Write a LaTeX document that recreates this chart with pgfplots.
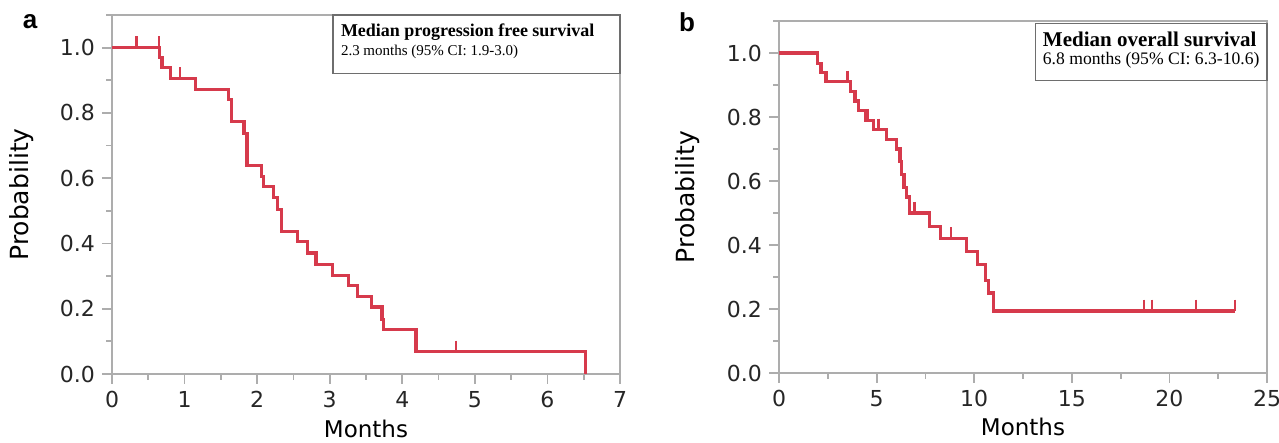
\documentclass[border=0pt]{standalone}
\usepackage{fontspec}
\setmainfont{DejaVu Sans}
\newfontfamily\tnr{Liberation Serif}
\newfontfamily\arl{Liberation Sans}
\usepackage{pgfplots}
\pgfplotsset{compat=1.18}
\definecolor{kmred}{HTML}{D63A4C}
\definecolor{framegray}{HTML}{ADADAD}
\definecolor{boxgray}{HTML}{6E6E6E}

\pgfplotsset{km/.style={
    scale only axis, clip=false,
    axis line style={framegray, line width=0.9pt},
    tick style={framegray, line width=0.9pt},
    tick align=outside, xtick pos=bottom, ytick pos=left,
    major tick length=5pt, minor tick length=3pt,
    ymin=0, ymax=1.1,
    ytick={0,0.2,0.4,0.6,0.8,1.0},
    minor ytick={0.1,0.3,0.5,0.7,0.9,1.1},
    yticklabel style={/pgf/number format/fixed,
      /pgf/number format/fixed zerofill, /pgf/number format/precision=1},
    /pgf/number format/assume math mode=true,
    tick label style={font=\fontsize{11}{13}\selectfont, text=black!85},
    xlabel={Months}, ylabel={Probability},
    label style={text=black!85},
    every axis x label/.style={at={(axis description cs:0.5,-0.152)}, anchor=center,
      font=\fontsize{11.5}{13}\selectfont},
  },
  curve/.style={kmred, line width=1.6pt, const plot, mark=none},
  cens/.style={only marks, kmred, mark=|, mark size=2.8pt, line width=1.2pt,
    mark options={yshift=2.8pt}},
}

\begin{document}
\begin{tikzpicture}
\useasboundingbox (0,0) rectangle (639.5pt,221.5pt);

% a: progression free survival
\begin{axis}[km, at={(56pt,34.5pt)}, anchor=south west,
    width=254pt, height=179.5pt,
    xmin=0, xmax=7, xtick={0,1,...,7}, minor xtick={0.5,1.5,...,6.5},
    every axis y label/.style={at={(axis description cs:-0.177,0.5)}, rotate=90,
      anchor=center, font=\fontsize{12.5}{14}\selectfont}]
\addplot[curve] coordinates {
  (0,1.0) (0.66,0.969) (0.69,0.938) (0.81,0.906) (1.15,0.872) (1.60,0.840)
  (1.65,0.773) (1.82,0.738) (1.86,0.638) (2.06,0.605) (2.09,0.574)
  (2.23,0.540) (2.28,0.505) (2.34,0.437) (2.56,0.405) (2.69,0.371)
  (2.81,0.335) (3.04,0.301) (3.26,0.270) (3.38,0.238) (3.58,0.205)
  (3.72,0.167) (3.74,0.136) (4.19,0.068) (6.53,0.0)
};
\addplot[cens] coordinates {(0.34,1.0) (0.65,1.0) (0.94,0.906) (4.74,0.068)};
\draw[boxgray, line width=0.6pt, fill=white] (rel axis cs:0.435,0.836) rectangle (rel axis cs:1,1);
\node[anchor=west, font=\tnr\bfseries\fontsize{9}{10}\selectfont, inner sep=0pt]
  at (rel axis cs:0.450,0.953) {Median progression free survival};
\node[anchor=west, font=\tnr\fontsize{7.5}{9}\selectfont, inner sep=0pt]
  at (rel axis cs:0.450,0.897) {2.3 months (95\% CI: 1.9-3.0)};
\end{axis}

% b: overall survival
\begin{axis}[km, at={(389.5pt,35pt)}, anchor=south west,
    width=244pt, height=176pt,
    xmin=0, xmax=25, xtick={0,5,...,25}, minor xtick={2.5,7.5,...,22.5},
    every axis y label/.style={at={(axis description cs:-0.187,0.5)}, rotate=90,
      anchor=center, font=\fontsize{12.5}{14}\selectfont}]
\addplot[curve] coordinates {
  (0,1.0) (1.99,0.968) (2.15,0.94) (2.41,0.91) (3.67,0.88) (3.89,0.85)
  (4.09,0.82) (4.43,0.79) (4.85,0.76) (5.52,0.73) (6.03,0.70) (6.20,0.66)
  (6.28,0.62) (6.40,0.58) (6.52,0.55) (6.68,0.50) (7.71,0.458) (8.27,0.42)
  (9.61,0.38) (10.15,0.34) (10.57,0.29) (10.74,0.25) (10.99,0.194)
  (23.37,0.194)
};
\addplot[cens] coordinates {(3.5,0.91) (4.55,0.79) (5.1,0.76) (6.95,0.50)
  (8.8,0.42) (18.7,0.194) (19.1,0.194) (21.35,0.194) (23.37,0.194)};
\draw[boxgray, line width=0.6pt, fill=white] (rel axis cs:0.526,0.832) rectangle (rel axis cs:1.0,0.994);
\node[anchor=west, font=\tnr\bfseries\fontsize{10.5}{12}\selectfont, inner sep=0pt]
  at (rel axis cs:0.540,0.949) {Median overall survival};
\node[anchor=west, font=\tnr\fontsize{8.8}{10}\selectfont, inner sep=0pt]
  at (rel axis cs:0.540,0.889) {6.8 months (95\% CI: 6.3-10.6)};
\end{axis}

\node[font=\arl\bfseries\fontsize{13}{14}\selectfont] at (15pt,210.5pt) {a};
\node[font=\arl\bfseries\fontsize{13}{14}\selectfont] at (343.5pt,210.5pt) {b};
\end{tikzpicture}
\end{document}
